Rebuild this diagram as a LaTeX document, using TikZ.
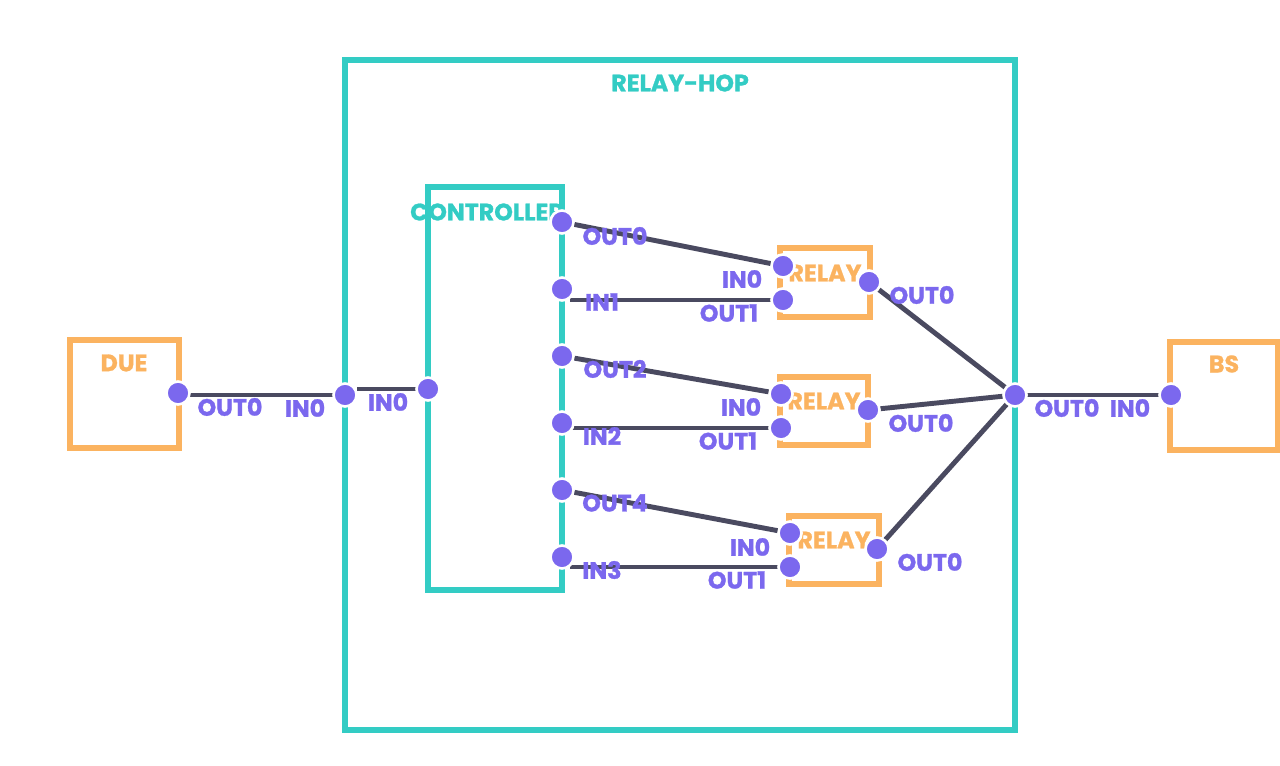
\documentclass[tikz,border=0pt]{standalone}
\usepackage{fontspec}
\setmainfont{Poppins}[BoldFeatures={FakeBold=1.2}]
\definecolor{hopc}{HTML}{33CCC4}
\definecolor{devc}{HTML}{FBB360}
\definecolor{portc}{HTML}{7B68EE}
\definecolor{wirec}{HTML}{4A4A60}
\begin{document}
\begin{tikzpicture}[x=0.02cm,y=-0.02cm]
\tikzstyle{port}=[circle,fill=portc,draw=white,line width=1.5pt,minimum size=0.46cm,inner sep=0pt]
\tikzstyle{wire}=[draw=wirec,line width=2.8pt]
\tikzstyle{plabel}=[text=portc,font=\bfseries\fontsize{13.5}{15}\selectfont,inner sep=0pt]
\tikzstyle{hopbox}=[draw=hopc,line width=3.8pt]
\tikzstyle{devbox}=[draw=devc,line width=3.6pt]
\tikzstyle{hoplabel}=[text=hopc,font=\bfseries\fontsize{13.5}{15}\selectfont,inner sep=0pt]
\tikzstyle{devlabel}=[text=devc,font=\bfseries\fontsize{13.5}{15}\selectfont,inner sep=0pt]
\useasboundingbox (0,0) rectangle (1280,766);

\draw[hopbox] (345,60) rectangle (1015,730);
\node[hoplabel] (L0) at (680,83) {RELAY-HOP};
\draw[hopbox] (428,187) rectangle (562,590);
\node[hoplabel] (L1) at (487,212) {CONTROLLER};
\draw[devbox] (70,340) rectangle (179,448);
\node[devlabel] (L2) at (124,363) {DUE};
\draw[devbox] (1170,342) rectangle (1278,450);
\node[devlabel] (L3) at (1224,364) {BS};
\draw[devbox] (780,248) rectangle (870,317);
\node[devlabel] (L4) at (825,273) {RELAY};
\draw[devbox] (780,377) rectangle (868,445);
\node[devlabel] (L5) at (824,401) {RELAY};
\draw[devbox] (789,516) rectangle (879,584);
\node[devlabel] (L6) at (834,540) {RELAY};

\coordinate (D) at (178,393);
\coordinate (H1) at (345,395);
\coordinate (H2) at (1015,395);
\coordinate (B) at (1171,395);
\coordinate (C0) at (428,389);
\coordinate (C1) at (562,222);
\coordinate (C2) at (562,289);
\coordinate (C3) at (562,356);
\coordinate (C4) at (562,423);
\coordinate (C5) at (562,490);
\coordinate (C6) at (562,557);
\coordinate (R1a) at (783,266);
\coordinate (R1b) at (783,300);
\coordinate (R1c) at (869,282);
\coordinate (R2a) at (781,394);
\coordinate (R2b) at (781,428);
\coordinate (R2c) at (868,410);
\coordinate (R3a) at (790,533);
\coordinate (R3b) at (790,567);
\coordinate (R3c) at (877,549);

\draw[wire] (D |- H1) -- (H1);
\draw[wire,shorten <=0.24cm] (H1 |- C0) -- (C0);
\draw[wire] (C1) -- (R1a);
\draw[wire,shorten <=0.16cm] (C2 |- R1b) -- (R1b);
\draw[wire] (C3) -- (R2a);
\draw[wire,shorten <=0.16cm] (C4 |- R2b) -- (R2b);
\draw[wire] (C5) -- (R3a);
\draw[wire,shorten <=0.16cm] (C6 |- R3b) -- (R3b);
\draw[wire] (R1c) -- (H2);
\draw[wire] (R2c) -- (H2);
\draw[wire] (R3c) -- (H2);
\draw[wire] (H2) -- (B);

\foreach \p in {D,H1,H2,B,C0,C1,C2,C3,C4,C5,C6,R1a,R1b,R1c,R2a,R2b,R2c,R3a,R3b,R3c}
  \node[port] (P\p) at (\p) {};

\node[plabel] at (230,407) {OUT0};
\node[plabel] at (305,408) {IN0};
\node[plabel] at (388,402) {IN0};
\node[plabel] at (615,236) {OUT0};
\node[plabel] at (602,302) {IN1};
\node[plabel] at (615,369) {OUT2};
\node[plabel] at (602,436) {IN2};
\node[plabel] at (615,503) {OUT4};
\node[plabel] at (602,570) {IN3};
\node[plabel] at (742,279) {IN0};
\node[plabel] at (729,313) {OUT1};
\node[plabel] at (922,295) {OUT0};
\node[plabel] at (741,407) {IN0};
\node[plabel] at (728,441) {OUT1};
\node[plabel] at (921,423) {OUT0};
\node[plabel] at (750,547) {IN0};
\node[plabel] at (737,580) {OUT1};
\node[plabel] at (930,562) {OUT0};
\node[plabel] at (1067,408) {OUT0};
\node[plabel] at (1130,408) {IN0};
\end{tikzpicture}
\end{document}
